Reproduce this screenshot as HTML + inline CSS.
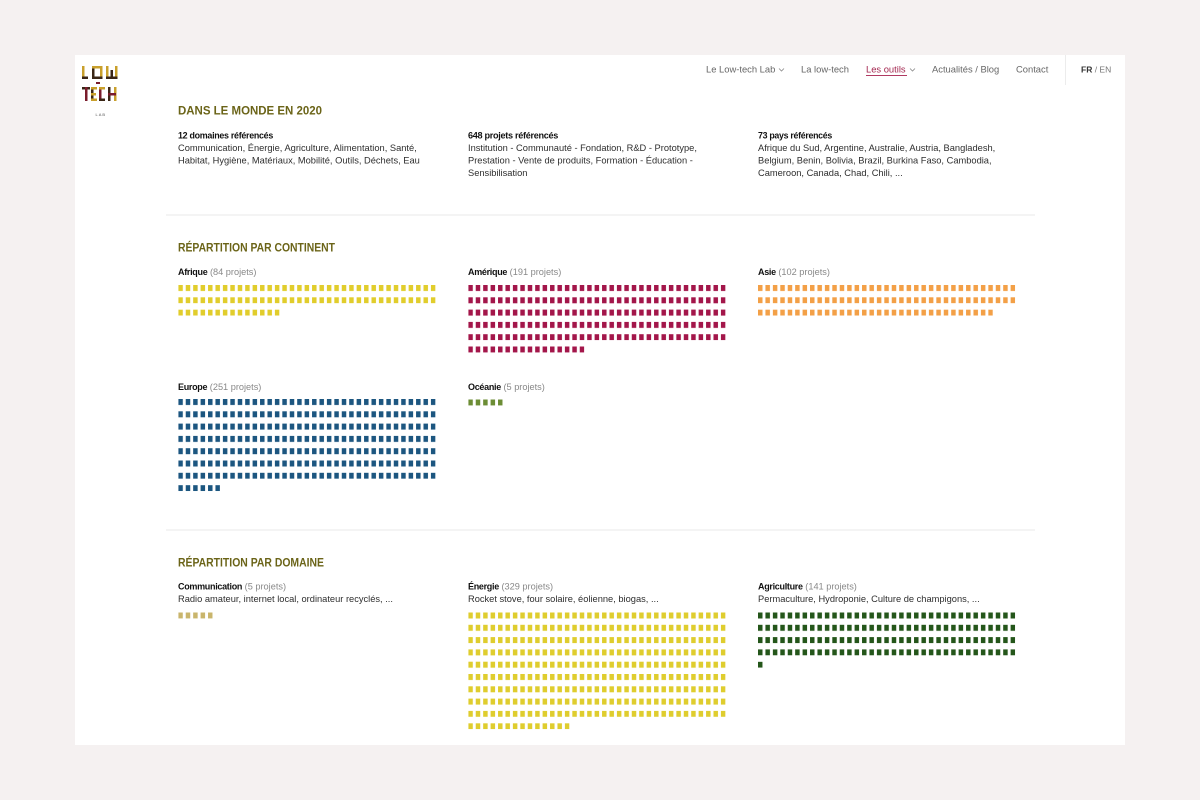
<!DOCTYPE html>
<html>
<head>
<meta charset="utf-8">
<style>
  html,body{margin:0;padding:0;background:#f5f1f1;}
  body{width:1200px;height:800px;overflow:hidden;}
  svg{display:block;}
  .nav{font-family:"Liberation Sans",sans-serif;font-size:9.4px;fill:#666;}
  .ttl{font-family:"Liberation Sans",sans-serif;font-weight:bold;font-size:12px;fill:#6b6418;}
  .lb{font-family:"Liberation Sans",sans-serif;font-weight:bold;font-size:9px;fill:#111;letter-spacing:-0.3px;}
  .gr{font-family:"Liberation Sans",sans-serif;font-weight:normal;font-size:9.2px;fill:#888;letter-spacing:0;}
  .bd{font-family:"Liberation Sans",sans-serif;font-size:9.3px;fill:#2e2e2e;}
</style>
</head>
<body>
<svg width="1200" height="800" viewBox="0 0 1200 800" xmlns="http://www.w3.org/2000/svg">
  <defs>
    <pattern id="pAf" width="7.43" height="12.3" patternUnits="userSpaceOnUse"><rect width="4.5" height="6" fill="#e1cd2c"/></pattern>
    <pattern id="pAm" width="7.43" height="12.3" patternUnits="userSpaceOnUse"><rect width="4.5" height="6" fill="#a3164a"/></pattern>
    <pattern id="pAs" width="7.43" height="12.3" patternUnits="userSpaceOnUse"><rect width="4.5" height="6" fill="#f3a047"/></pattern>
    <pattern id="pEu" width="7.43" height="12.3" patternUnits="userSpaceOnUse"><rect width="4.5" height="6" fill="#1c5680"/></pattern>
    <pattern id="pOc" width="7.43" height="12.3" patternUnits="userSpaceOnUse"><rect width="4.5" height="6" fill="#6c8d35"/></pattern>
    <pattern id="pCo" width="7.43" height="12.3" patternUnits="userSpaceOnUse"><rect width="4.5" height="6" fill="#c9b56c"/></pattern>
    <pattern id="pEn" width="7.43" height="12.3" patternUnits="userSpaceOnUse"><rect width="4.5" height="6" fill="#dfcd2e"/></pattern>
    <pattern id="pAg" width="7.43" height="12.3" patternUnits="userSpaceOnUse"><rect width="4.5" height="6" fill="#24561a"/></pattern>
  </defs>

  <!-- card -->
  <rect x="75" y="55" width="1050" height="690" fill="#ffffff"/>

  <!-- logo -->
  <g>
    <rect x="82" y="66" width="2.5" height="13" fill="#c9a02c"/>
    <rect x="82" y="76.5" width="6" height="2.5" fill="#3a2616"/>
    <rect x="92" y="66" width="2.5" height="13" fill="#3a2616"/>
    <rect x="100" y="66" width="2.5" height="13" fill="#c9a02c"/>
    <rect x="92" y="66" width="10.5" height="2.5" fill="#c9a02c"/>
    <rect x="92" y="76.5" width="10.5" height="2.5" fill="#3a2616"/>
    <rect x="106" y="66" width="2.5" height="13" fill="#c9a02c"/>
    <rect x="110.5" y="70" width="2.5" height="9" fill="#3a2616"/>
    <rect x="115" y="66" width="2.5" height="13" fill="#c9a02c"/>
    <rect x="106" y="76.5" width="11.5" height="2.5" fill="#3a2616"/>
    <rect x="96" y="82" width="4" height="2" fill="#7a1c2c"/>
    <rect x="82" y="87" width="8" height="2.5" fill="#3a2616"/>
    <rect x="85" y="87" width="2.5" height="14" fill="#7a1c2c"/>
    <rect x="91" y="87" width="2.5" height="14" fill="#3a2616"/>
    <rect x="91" y="87" width="6" height="2.5" fill="#c9a02c"/>
    <rect x="91" y="93" width="5" height="2.5" fill="#c9a02c"/>
    <rect x="91" y="98.5" width="6" height="2.5" fill="#c9a02c"/>
    <rect x="99" y="87" width="2.5" height="14" fill="#7a1c2c"/>
    <rect x="99" y="87" width="6" height="2.5" fill="#c9a02c"/>
    <rect x="99" y="98.5" width="6" height="2.5" fill="#3a2616"/>
    <rect x="108" y="87" width="2.5" height="14" fill="#3a2616"/>
    <rect x="114" y="87" width="2.5" height="14" fill="#c9a02c"/>
    <rect x="108" y="93" width="8" height="2.5" fill="#7a1c2c"/>
    <text x="95.5" y="116" font-family="Liberation Sans, sans-serif" font-size="4" fill="#555" letter-spacing="1">LAB</text>
  </g>

  <!-- nav -->
  <text class="nav" x="706" y="72.5">Le Low-tech Lab</text>
  <polyline points="779,68.5 781.5,71 784,68.5" fill="none" stroke="#888" stroke-width="0.8"/>
  <text class="nav" x="801" y="72.5">La low-tech</text>
  <text class="nav" x="866" y="72.5" style="fill:#a3264f">Les outils</text>
  <rect x="866" y="75" width="41" height="1" fill="#b03a62"/>
  <polyline points="910,68.5 912.5,71 915,68.5" fill="none" stroke="#888" stroke-width="0.8"/>
  <text class="nav" x="932" y="72.5">Actualités / Blog</text>
  <text class="nav" x="1016" y="72.5">Contact</text>
  <rect x="1065" y="55" width="1" height="30" fill="#ececec"/>
  <text x="1081" y="72.5" font-family="Liberation Sans, sans-serif" font-size="8.5"><tspan font-weight="bold" fill="#333">FR</tspan><tspan fill="#777"> / EN</tspan></text>

  <!-- section 1 -->
  <text class="ttl" x="178" y="114.3" textLength="144" lengthAdjust="spacingAndGlyphs">DANS LE MONDE EN 2020</text>

  <text class="lb" x="178" y="138.5" textLength="95" lengthAdjust="spacingAndGlyphs">12 domaines référencés</text>
  <text class="bd" x="178" y="151">Communication, Énergie, Agriculture, Alimentation, Santé,</text>
  <text class="bd" x="178" y="163.5">Habitat, Hygiène, Matériaux, Mobilité, Outils, Déchets, Eau</text>

  <text class="lb" x="468" y="138.5" textLength="90" lengthAdjust="spacingAndGlyphs">648 projets référencés</text>
  <text class="bd" x="468" y="151">Institution - Communauté - Fondation, R&amp;D - Prototype,</text>
  <text class="bd" x="468" y="163.5">Prestation - Vente de produits, Formation - Éducation -</text>
  <text class="bd" x="468" y="176">Sensibilisation</text>

  <text class="lb" x="758" y="138.5" textLength="74" lengthAdjust="spacingAndGlyphs">73 pays référencés</text>
  <text class="bd" x="758" y="151">Afrique du Sud, Argentine, Australie, Austria, Bangladesh,</text>
  <text class="bd" x="758" y="163.5">Belgium, Benin, Bolivia, Brazil, Burkina Faso, Cambodia,</text>
  <text class="bd" x="758" y="176">Cameroon, Canada, Chad, Chili, ...</text>

  <rect x="166" y="214.5" width="869" height="1" fill="#e9e9e9"/>

  <!-- section 2 -->
  <text class="ttl" x="178" y="251.5" textLength="157" lengthAdjust="spacingAndGlyphs">RÉPARTITION PAR CONTINENT</text>

  <text x="178" y="275"><tspan class="lb">Afrique</tspan><tspan class="gr"> (84 projets)</tspan></text>
  <text x="468" y="275"><tspan class="lb">Amérique</tspan><tspan class="gr"> (191 projets)</tspan></text>
  <text x="758" y="275"><tspan class="lb">Asie</tspan><tspan class="gr"> (102 projets)</tspan></text>

  <!-- full width = 34*7.43+4.5 = 257.12 ; rows height = (n-1)*12.3+6 -->
  <g transform="translate(178.3,285)">
    <rect x="0" y="0" width="257.12" height="18.3" fill="url(#pAf)"/>
    <rect x="0" y="24.6" width="101.09" height="6" fill="url(#pAf)"/>
  </g>
  <g transform="translate(468.3,285)">
    <rect x="0" y="0" width="257.12" height="55.2" fill="url(#pAm)"/>
    <rect x="0" y="61.5" width="115.95" height="6" fill="url(#pAm)"/>
  </g>
  <g transform="translate(758,285)">
    <rect x="0" y="0" width="257.12" height="18.3" fill="url(#pAs)"/>
    <rect x="0" y="24.6" width="234.83" height="6" fill="url(#pAs)"/>
  </g>

  <text x="178" y="390"><tspan class="lb">Europe</tspan><tspan class="gr"> (251 projets)</tspan></text>
  <text x="468" y="390"><tspan class="lb">Océanie</tspan><tspan class="gr"> (5 projets)</tspan></text>

  <g transform="translate(178.3,399)">
    <rect x="0" y="0" width="257.12" height="79.8" fill="url(#pEu)"/>
    <rect x="0" y="86.1" width="41.65" height="6" fill="url(#pEu)"/>
  </g>
  <g transform="translate(468.3,399.5)">
    <rect x="0" y="0" width="34.22" height="6" fill="url(#pOc)"/>
  </g>

  <rect x="166" y="529.5" width="869" height="1" fill="#e9e9e9"/>

  <!-- section 3 -->
  <text class="ttl" x="178" y="566.5" textLength="146" lengthAdjust="spacingAndGlyphs">RÉPARTITION PAR DOMAINE</text>

  <text x="178" y="589.5"><tspan class="lb">Communication</tspan><tspan class="gr"> (5 projets)</tspan></text>
  <text class="bd" x="178" y="602">Radio amateur, internet local, ordinateur recyclés, ...</text>
  <text x="468" y="589.5"><tspan class="lb">Énergie</tspan><tspan class="gr"> (329 projets)</tspan></text>
  <text class="bd" x="468" y="602">Rocket stove, four solaire, éolienne, biogas, ...</text>
  <text x="758" y="589.5"><tspan class="lb">Agriculture</tspan><tspan class="gr"> (141 projets)</tspan></text>
  <text class="bd" x="758" y="602">Permaculture, Hydroponie, Culture de champigons, ...</text>

  <g transform="translate(178.3,612.5)">
    <rect x="0" y="0" width="34.22" height="6" fill="url(#pCo)"/>
  </g>
  <g transform="translate(468.3,612.5)">
    <rect x="0" y="0" width="257.12" height="104.4" fill="url(#pEn)"/>
    <rect x="0" y="110.7" width="101.09" height="6" fill="url(#pEn)"/>
  </g>
  <g transform="translate(758,612.5)">
    <rect x="0" y="0" width="257.12" height="42.9" fill="url(#pAg)"/>
    <rect x="0" y="49.2" width="4.5" height="6" fill="url(#pAg)"/>
  </g>
</svg>
</body>
</html>
